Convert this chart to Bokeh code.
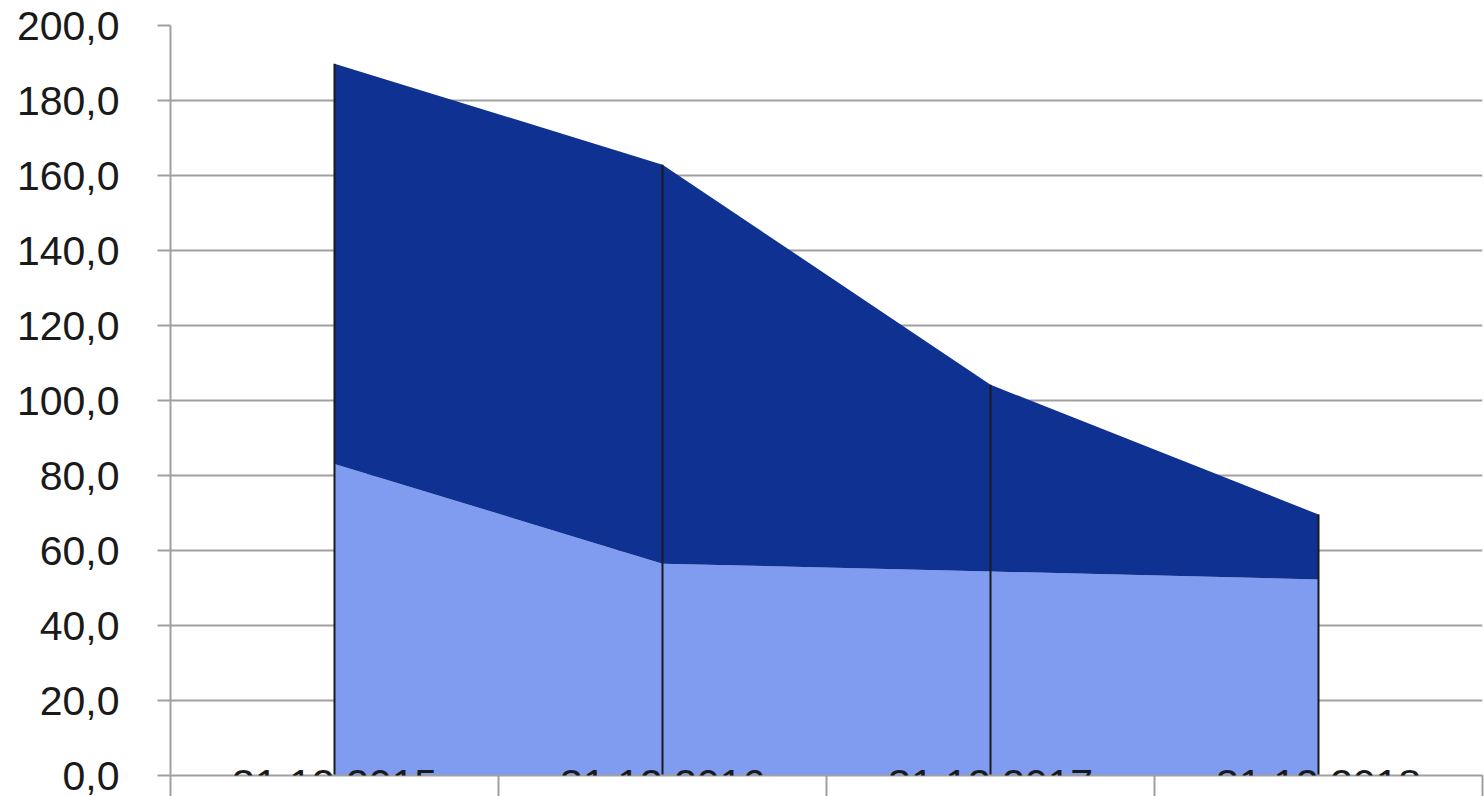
from bokeh.plotting import figure
from bokeh.models import ColumnDataSource, FixedTicker, Label, Range1d
from bokeh.embed import file_html
from bokeh.resources import INLINE

categories = ["31.12.2015", "31.12.2016", "31.12.2017", "31.12.2018"]
lower_values = [83.1, 56.5, 54.4, 52.3]
upper_values = [106.7, 106.4, 49.8, 17.3]
y_ticks = [0, 20, 40, 60, 80, 100, 120, 140, 160, 180, 200]

LIGHT = "#7f9cf1"
DARK = "#0f3192"
GRID = "#a0a0a0"
FONT = "Liberation Sans"

xs = [i + 0.5 for i in range(len(categories))]
totals = [a + b for a, b in zip(lower_values, upper_values)]
src = ColumnDataSource(dict(x=xs, lower=lower_values, upper=upper_values,
                            total=totals, zero=[0] * len(xs)))

p = figure(width=1484, height=796, output_backend="svg", toolbar_location=None,
           x_range=Range1d(0, len(categories)), y_range=Range1d(0, 200),
           min_border_left=170, min_border_right=2, min_border_top=25,
           min_border_bottom=21)
p.outline_line_color = None
p.background_fill_color = "white"

p.varea_stack(["lower", "upper"], x="x", color=[LIGHT, DARK], source=src)
p.segment(x0="x", y0="zero", x1="x", y1="total", source=src,
          line_color="#1a1a1a", line_width=2)

# y axis
p.yaxis.ticker = FixedTicker(ticks=y_ticks)
p.yaxis.major_label_overrides = {v: f"{v:.1f}".replace(".", ",") for v in y_ticks}
p.yaxis.major_label_text_font = FONT
p.yaxis.major_label_text_font_size = "41px"
p.yaxis.major_label_text_color = "#1a1a1a"
p.yaxis.major_label_standoff = 38
p.yaxis.major_tick_out = 13
p.yaxis.major_tick_in = 0
p.yaxis.minor_tick_line_color = None
p.yaxis.major_tick_line_color = GRID
p.yaxis.major_tick_line_width = 2
p.yaxis.axis_line_color = GRID
p.yaxis.axis_line_width = 2

# x axis: only category separators (as minor ticks), labels drawn as Labels
p.xaxis.ticker = FixedTicker(ticks=[], minor_ticks=list(range(len(categories) + 1)))
p.xaxis.major_label_standoff = 0
p.xaxis.major_tick_out = 0
p.xaxis.major_tick_in = 0
p.xaxis.minor_tick_out = 21
p.xaxis.minor_tick_in = 0
p.xaxis.minor_tick_line_color = GRID
p.xaxis.minor_tick_line_width = 2
p.xaxis.axis_line_color = GRID
p.xaxis.axis_line_width = 2

p.xgrid.grid_line_color = None
p.ygrid.ticker = FixedTicker(ticks=y_ticks)
p.ygrid.grid_line_color = GRID
p.ygrid.grid_line_width = 2

for x, c in zip(xs, categories):
    p.add_layout(Label(x=x, y=0, text=c, text_align="center", text_baseline="top",
                       y_offset=6, text_font=FONT, text_font_size="41px",
                       text_color="#1a1a1a", level="overlay"))

open("out.html", "w").write(file_html(p, INLINE))
